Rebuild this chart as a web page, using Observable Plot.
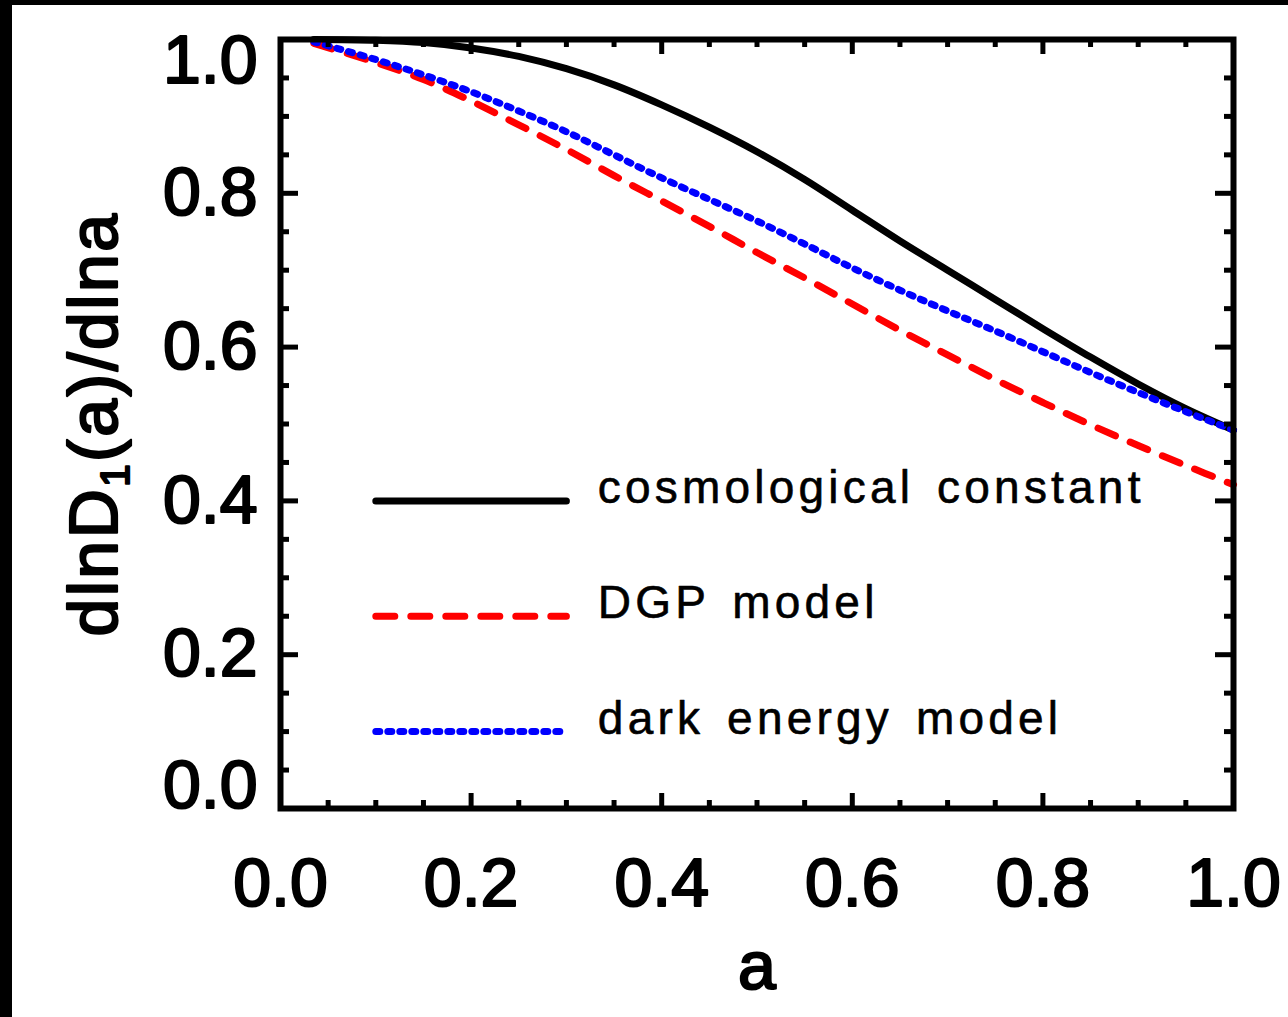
<!DOCTYPE html>
<html><head><meta charset="utf-8">
<script src="https://cdn.jsdelivr.net/npm/d3@7"></script>
<script src="https://cdn.jsdelivr.net/npm/@observablehq/plot@0.6"></script>
<style>
html,body{margin:0;padding:0;background:#fff;}
#wrap{width:1276px;height:1012px;border-top:5px solid #000;border-left:12px solid #000;background:#fff;overflow:hidden}
</style></head><body><div id="wrap"></div>
<script>
// ---- data ----
const aValues = [0.035, 0.1, 0.15, 0.2, 0.25, 0.3, 0.35, 0.4, 0.45, 0.5, 0.55, 0.6, 0.65, 0.7, 0.75, 0.8, 0.85, 0.9, 0.95, 1.0];
const lcdm    = [1.000, 0.999, 0.996, 0.989, 0.978, 0.962, 0.941, 0.915, 0.886, 0.854, 0.818, 0.778, 0.738, 0.700, 0.662, 0.624, 0.587, 0.552, 0.520, 0.492];
const dgp     = [0.995, 0.970, 0.948, 0.920, 0.889, 0.857, 0.823, 0.790, 0.757, 0.723, 0.690, 0.656, 0.622, 0.590, 0.558, 0.528, 0.499, 0.472, 0.446, 0.421];
const darkE   = [0.997, 0.974, 0.954, 0.932, 0.907, 0.880, 0.850, 0.820, 0.792, 0.764, 0.734, 0.703, 0.674, 0.647, 0.621, 0.594, 0.567, 0.541, 0.516, 0.492];
const seriesNames = ["cosmological constant", "DGP model", "dark energy model"];
const xTickValues = [0.0, 0.2, 0.4, 0.6, 0.8, 1.0];
const yTickValues = [0.0, 0.2, 0.4, 0.6, 0.8, 1.0];
const minorTickValues = [0.05, 0.1, 0.15, 0.25, 0.3, 0.35, 0.45, 0.5, 0.55, 0.65, 0.7, 0.75, 0.85, 0.9, 0.95];
const xLabel = "a";
const yLabel = "dlnD1(a)/dlna";

// ---- layout ----
const W = 1276, H = 1012;
const mL = 268, mT = 34, mR = 55, mB = 209;
const PW = W - mL - mR, PH = H - mT - mB;
const FONT = "'Liberation Sans', Arial, Helvetica, sans-serif";

const seriesVals = [lcdm, dgp, darkE];
const styles = [
  {stroke: "#000000", strokeWidth: 7},
  {stroke: "#ff0000", strokeWidth: 7, strokeDasharray: "19,16"},
  {stroke: "#0000ff", strokeWidth: 7, strokeDasharray: "4,8"}
];
const curves = seriesVals.map(vals => aValues.map((a, i) => ({a, v: vals[i]})));

// legend placement (data coordinates)
const legX = [0.1, 0.3], legY = [0.4, 0.25, 0.1], legTextX = 0.333;
const legendRows = seriesNames.map((name, i) => legX.map(x => ({x, y: legY[i]})));

const tickStyle = {stroke: "#000", strokeWidth: 5};
const xMajLen = 15, xMinLen = 8, yMajLen = 18, yMinLen = 9;

const marks = [];
curves.forEach((c, i) => marks.push(Plot.line(c, {x: "a", y: "v", curve: "catmull-rom", ...styles[i]})));
legendRows.forEach((r, i) => marks.push(Plot.line(r, {x: "x", y: "y", ...styles[i]})));
marks.push(Plot.text(seriesNames, {x: legTextX, y: (d, i) => legY[i], text: d => d, textAnchor: "start", lineAnchor: "bottom", dy: 2, fontSize: 46, fontFamily: FONT, fill: "#000", stroke: "#000", strokeWidth: 0.6}));

// ticks (inward, all four sides)
marks.push(
  Plot.ruleX(xTickValues, {x: d => d, insetTop: PH - xMajLen, ...tickStyle}),
  Plot.ruleX(minorTickValues, {x: d => d, insetTop: PH - xMinLen, ...tickStyle}),
  Plot.ruleX(xTickValues, {x: d => d, insetBottom: PH - xMajLen, ...tickStyle}),
  Plot.ruleX(minorTickValues, {x: d => d, insetBottom: PH - xMinLen, ...tickStyle}),
  Plot.ruleY(yTickValues, {y: d => d, insetRight: PW - yMajLen, ...tickStyle}),
  Plot.ruleY(minorTickValues, {y: d => d, insetRight: PW - yMinLen, ...tickStyle}),
  Plot.ruleY(yTickValues, {y: d => d, insetLeft: PW - yMajLen, ...tickStyle}),
  Plot.ruleY(minorTickValues, {y: d => d, insetLeft: PW - yMinLen, ...tickStyle})
);

// tick labels
const fmt = d => d.toFixed(1);
const labStyle = {fontSize: 68, fontFamily: FONT, fill: "#000", textStroke: "#000", textStrokeWidth: 2.2};
marks.push(
  Plot.axisX(xTickValues, {anchor: "bottom", tickSize: 0, tickPadding: 49, tickFormat: fmt, label: null, ...labStyle}),
  Plot.axisY(yTickValues.filter(v => v > 0 && v < 1), {anchor: "left", tickSize: 0, tickPadding: 23, tickFormat: fmt, label: null, ...labStyle}),
  Plot.axisY([yTickValues[yTickValues.length - 1]], {anchor: "left", tickSize: 0, tickPadding: 23, tickFormat: fmt, label: null, dy: 22, ...labStyle}),
  Plot.axisY([yTickValues[0]], {anchor: "left", tickSize: 0, tickPadding: 23, tickFormat: fmt, label: null, dy: -22, ...labStyle})
);

// axis titles
const titleStyle = {fontSize: 68, fontFamily: FONT, fill: "#000", stroke: "#000", strokeWidth: 2.2};
marks.push(
  Plot.text([xLabel], {frameAnchor: "bottom", text: d => d, lineAnchor: "bottom", dy: 180, ...titleStyle}),
  Plot.text([yLabel], {frameAnchor: "left", text: d => d, rotate: -90, textAnchor: "middle", lineAnchor: "middle", dx: -185, ...titleStyle})
);
marks.push(Plot.frame({stroke: "#000", strokeWidth: 6}));

const chart = Plot.plot({
  width: W, height: H,
  marginLeft: mL, marginRight: mR, marginTop: mT, marginBottom: mB,
  x: {domain: [0, 1]},
  y: {domain: [0, 1]},
  style: {background: "#fff", fontFamily: FONT, overflow: "visible"},
  marks
});
document.getElementById("wrap").appendChild(chart);

// cosmetic: letter spacing in legend, subscript in y label
const allText = d3.select(chart).selectAll("text");
allText.filter(function () { return seriesNames.includes(this.textContent); })
  .style("letter-spacing", "4.2px").style("word-spacing", "6px");
const yl = allText.filter(function () { return this.textContent === yLabel; });
yl.text(null).style("letter-spacing", "2.5px");
yl.append("tspan").text("dlnD");
yl.append("tspan").attr("font-size", "40").attr("dy", "12").text("1");
yl.append("tspan").attr("dy", "-12").text("(a)/dlna");
</script></body></html>
